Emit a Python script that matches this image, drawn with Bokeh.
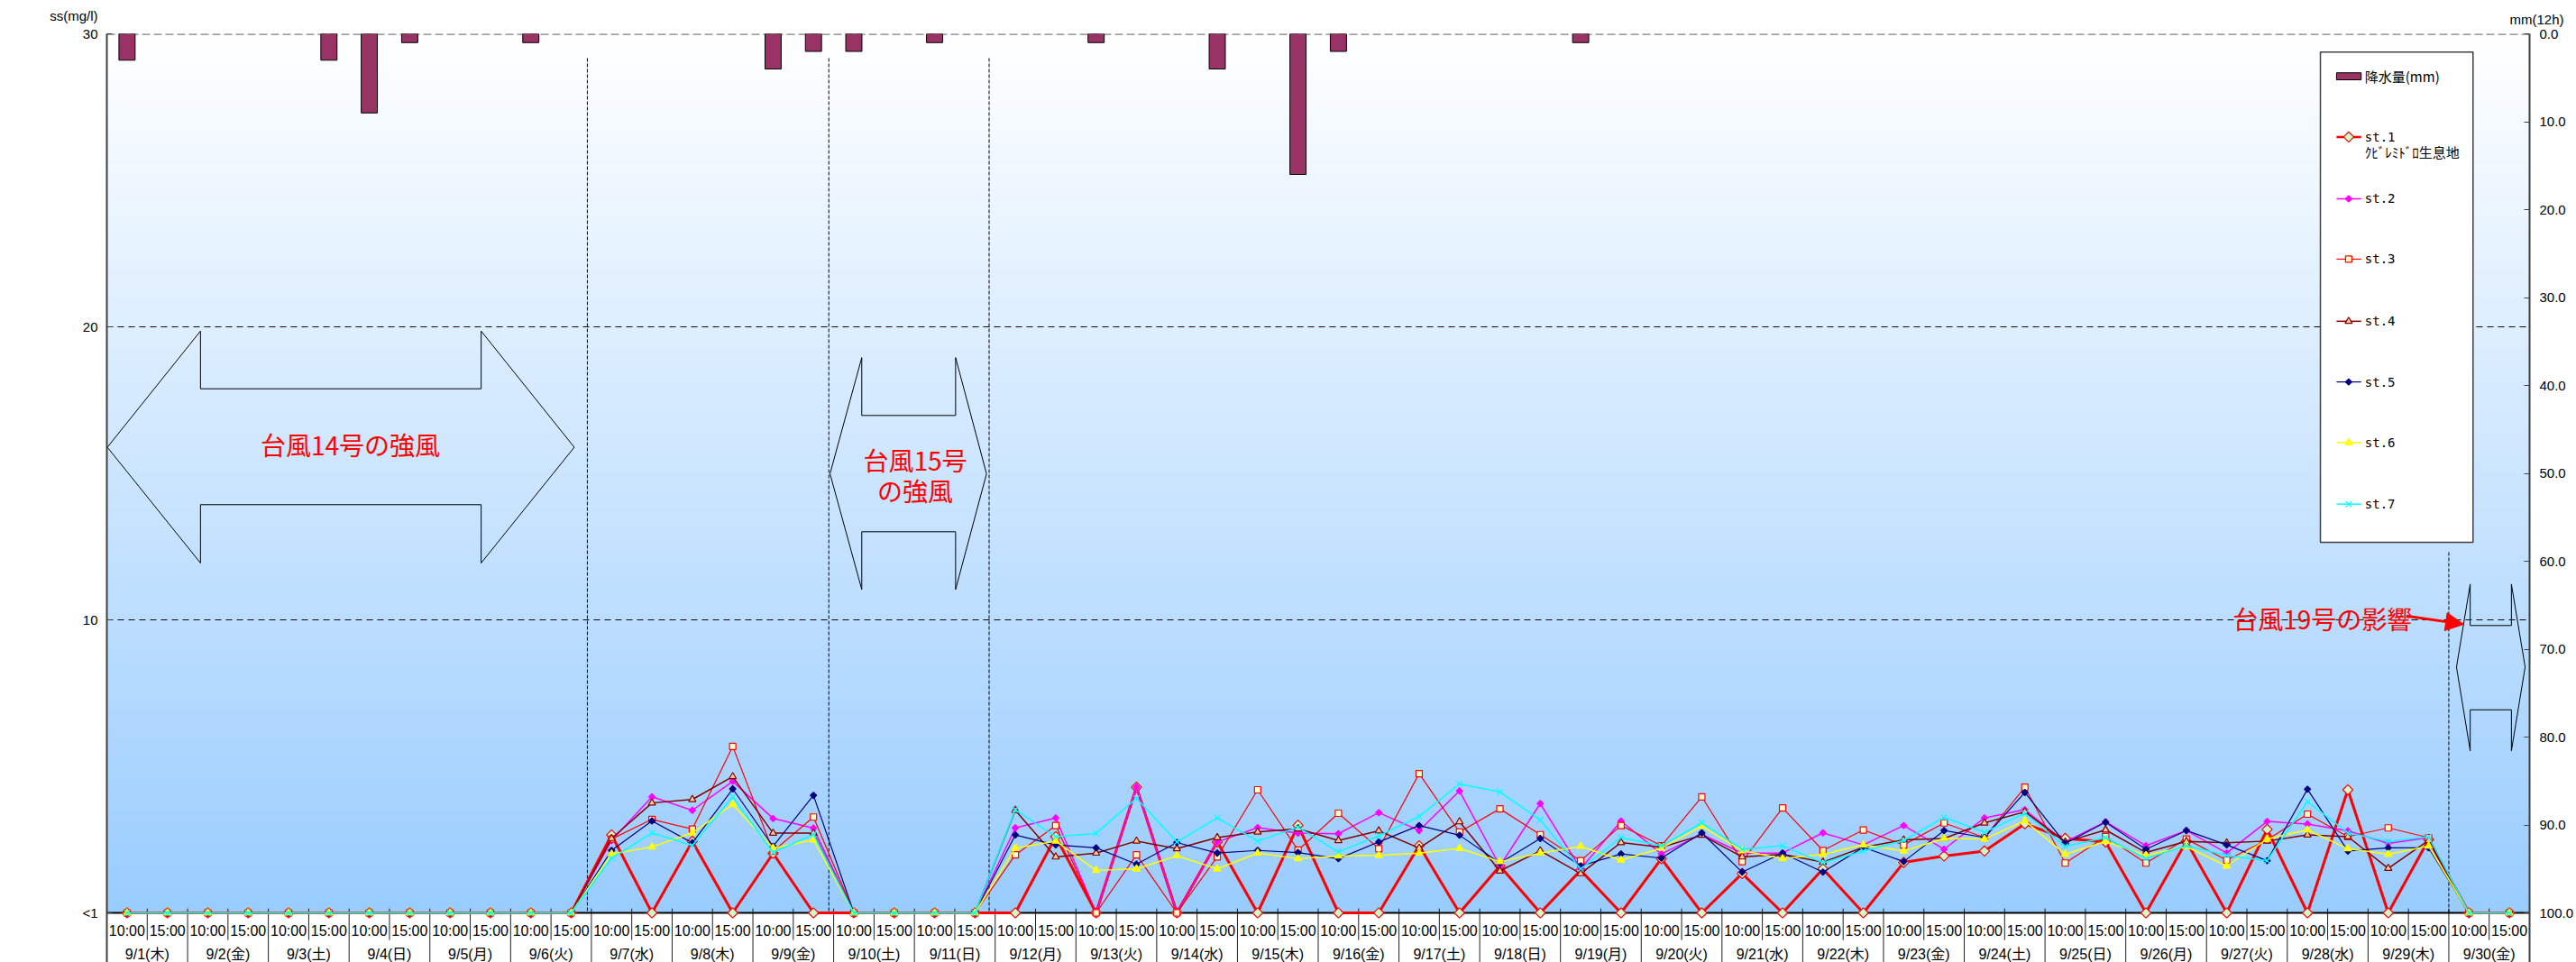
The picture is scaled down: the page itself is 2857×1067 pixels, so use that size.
import numpy as np
from bokeh.plotting import figure
from bokeh.models import (Range1d, LinearAxis, FixedTicker, NumeralTickFormatter,
                          Arrow, NormalHead)
from bokeh.core.properties import value
from bokeh.embed import file_html
from bokeh.resources import INLINE

# ---------------- data ----------------
dates = ["9/1(木)", "9/2(金)", "9/3(土)", "9/4(日)", "9/5(月)", "9/6(火)", "9/7(水)",
         "9/8(木)", "9/9(金)", "9/10(土)", "9/11(日)", "9/12(月)", "9/13(火)", "9/14(水)",
         "9/15(木)", "9/16(金)", "9/17(土)", "9/18(日)", "9/19(月)", "9/20(火)", "9/21(水)",
         "9/22(木)", "9/23(金)", "9/24(土)", "9/25(日)", "9/26(月)", "9/27(火)", "9/28(水)",
         "9/29(木)", "9/30(金)"]
times = ["10:00", "15:00"]

# rainfall mm(12h), one value per observation (60)
rain_mm = [3.0, 0, 0, 0, 0, 3.0, 9.0, 1.0, 0, 0, 1.0, 0,
           0, 0, 0, 0, 4.0, 2.0, 2.0, 0, 1.0, 0, 0, 0,
           1.0, 0, 0, 4.0, 0, 16.0, 2.0, 0, 0, 0, 0, 0,
           1.0, 0, 0, 0, 0, 0, 0, 0, 0, 0, 0, 0,
           0, 0, 0, 0, 0, 0, 0, 0, 0, 0, 0, 0]

# SS (mg/l); values "<1" are plotted at 0
st1 = [0, 0, 0, 0, 0, 0, 0, 0, 0, 0, 0, 0,
       2.66, 0, 2.44, 0, 2.03, 0, 0, 0, 0, 0,
       0, 2.6, 0, 4.29, 0, 2.42, 0, 2.99, 0, 0,
       2.29, 0, 1.6, 0, 1.45, 0, 1.85, 0, 1.34, 0,
       1.5, 0, 1.72, 1.94, 2.11, 3.04, 2.54, 2.42, 0, 2.44,
       0, 2.85, 0, 4.2, 0, 2.5, 0, 0]
st2 = [0, 0, 0, 0, 0, 0, 0, 0, 0, 0, 0, 0,
       2.47, 3.96, 3.5, 4.49, 3.22, 2.89, 0, 0, 0, 0,
       2.9, 3.24, 0, 4.29, 0, 2.42, 2.91, 2.72, 2.7, 3.42,
       2.81, 4.16, 1.6, 3.73, 1.5, 3.13, 2.01, 2.68, 2.04, 2.04,
       2.73, 2.32, 2.98, 2.17, 3.24, 3.52, 2.42, 3.11, 2.29, 2.81,
       2.04, 3.12, 3.03, 2.8, 2.37, 2.57, 0, 0]
st3 = [0, 0, 0, 0, 0, 0, 0, 0, 0, 0, 0, 0,
       2.52, 3.19, 2.86, 5.68, 2.1, 3.27, 0, 0, 0, 0,
       1.98, 2.98, 0, 1.98, 0, 1.91, 4.2, 2.14, 3.4, 2.19,
       4.75, 2.76, 3.55, 2.67, 1.78, 2.98, 2.29, 3.96, 1.75, 3.58,
       2.13, 2.83, 2.32, 3.07, 2.57, 4.29, 1.7, 2.6, 1.7, 2.52,
       1.8, 2.49, 3.37, 2.6, 2.9, 2.57, 0, 0]
st4 = [0, 0, 0, 0, 0, 0, 0, 0, 0, 0, 0, 0,
       2.54, 3.75, 3.87, 4.65, 2.72, 2.72, 0, 0, 0, 0,
       3.5, 1.91, 2.04, 2.45, 2.19, 2.57, 2.76, 2.87, 2.47, 2.8,
       2.21, 3.11, 1.43, 2.12, 1.34, 2.4, 2.24, 2.65, 1.91, 2.0,
       1.73, 2.24, 2.49, 2.54, 3.07, 3.45, 2.42, 2.83, 2.06, 2.44,
       2.39, 2.45, 2.66, 2.6, 1.52, 2.47, 0, 0]
st5 = [0, 0, 0, 0, 0, 0, 0, 0, 0, 0, 0, 0,
       2.13, 3.14, 2.39, 4.23, 2.27, 4.01, 0, 0, 0, 0,
       2.66, 2.32, 2.22, 1.66, 2.4, 2.04, 2.13, 2.06, 1.85, 2.42,
       2.98, 2.65, 1.7, 2.54, 1.6, 2.01, 1.87, 2.73, 1.39, 2.04,
       1.39, 2.24, 1.75, 2.81, 2.57, 4.11, 2.37, 3.09, 2.17, 2.81,
       2.32, 1.78, 4.22, 2.11, 2.22, 2.22, 0, 0]
st6 = [0, 0, 0, 0, 0, 0, 0, 0, 0, 0, 0, 0,
       2.01, 2.25, 2.73, 3.7, 2.21, 2.49, 0, 0, 0, 0,
       2.21, 2.45, 1.45, 1.5, 1.95, 1.5, 2.04, 1.85, 1.94, 1.96,
       2.04, 2.2, 1.75, 2.04, 2.27, 1.8, 2.21, 2.96, 2.12, 1.85,
       2.0, 2.32, 2.11, 2.54, 2.52, 3.14, 2.0, 2.44, 1.96, 2.26,
       1.6, 2.52, 2.83, 2.19, 2.0, 2.28, 0, 0]
st7 = [0, 0, 0, 0, 0, 0, 0, 0, 0, 0, 0, 0,
       1.86, 2.73, 2.3, 3.96, 2.06, 2.68, 0, 0, 0, 0,
       3.52, 2.6, 2.71, 3.91, 2.42, 3.24, 2.45, 2.92, 2.08, 2.63,
       3.29, 4.4, 4.13, 3.17, 1.5, 2.57, 2.29, 3.07, 2.17, 2.29,
       1.71, 2.11, 2.47, 3.26, 2.75, 3.4, 2.27, 2.57, 1.85, 2.29,
       1.96, 1.78, 3.8, 2.73, 2.44, 2.6, 0, 0]

series_names = ["st.1", "st.2", "st.3", "st.4", "st.5", "st.6", "st.7"]
left_ticks = [0, 10, 20, 30]
right_ticks = [0, 10, 20, 30, 40, 50, 60, 70, 80, 90, 100]

# ---------------- layout ----------------
N = len(dates) * len(times)
xs = list(range(N))
W, H = 2857, 1067
BL, BR, BT, BB = 118, 51, 37, 0
frame_h = H - BT - BB
ppu = 975.0 / 30.0                       # px per mg/l
y_bot = -(frame_h - 975.0) / ppu
rain_bot = 100.0 + (frame_h - 975.0) / 9.75

JP = "Noto Sans CJK JP"
LAT = "Liberation Sans, Noto Sans CJK JP"

p = figure(width=W, height=H, x_range=Range1d(-0.5, N - 0.5), y_range=Range1d(y_bot, 30),
           output_backend="svg", toolbar_location=None, x_axis_location=None,
           min_border_left=BL, min_border_right=BR, min_border_top=BT, min_border_bottom=BB,
           outline_line_color=None, background_fill_color="white", border_fill_color="white")
p.xgrid.visible = False
p.ygrid.visible = False
p.extra_y_ranges = {"rain": Range1d(rain_bot, 0)}

# right axis title shown as the plot title (top right)
p.title.text = "mm(12h)"
p.title.align = "right"
p.title.offset = -38
p.title.standoff = 14
p.title.vertical_align = "middle"
p.title.text_font = "Liberation Sans"
p.title.text_font_size = "15px"
p.title.text_font_style = "normal"
p.title.text_color = "black"

ya = p.yaxis[0]
ya.ticker = FixedTicker(ticks=left_ticks)
ya.major_label_overrides = {0: "<1", 30: "ss(mg/l)\n30\n"}
ya.major_tick_in = 6
ya.major_tick_out = 0
ya.minor_tick_line_color = None
ya.axis_line_width = 2
ya.axis_line_color = "#404040"
ya.major_tick_line_color = "#404040"
ya.major_label_text_font_size = "15px"
ya.major_label_text_font = "Liberation Sans"
ya.major_label_text_color = "black"
ya.major_label_standoff = 10

ra = LinearAxis(y_range_name="rain", ticker=FixedTicker(ticks=right_ticks),
                formatter=NumeralTickFormatter(format="0.0"))
ra.major_tick_in = 6
ra.major_tick_out = 0
ra.minor_tick_line_color = None
ra.axis_line_width = 2
ra.axis_line_color = "#404040"
ra.major_tick_line_color = "#404040"
ra.major_label_text_font_size = "15px"
ra.major_label_text_font = "Liberation Sans"
ra.major_label_text_color = "black"
ra.major_label_standoff = 11
p.add_layout(ra, "right")

# background gradient (white top -> light blue bottom)
nstr = 120
edges = np.linspace(0, 30, nstr + 1)
cols = []
for i in range(nstr):
    t = (edges[i] + edges[i + 1]) / 2 / 30.0
    r = int(round(153 + (255 - 153) * t))
    g = int(round(204 + (255 - 204) * t))
    cols.append("#%02x%02x%02x" % (r, g, 255))
p.quad(left=-0.5, right=N - 0.5, bottom=edges[:-1], top=edges[1:], fill_color=cols,
       line_color=cols, line_width=1)

# dashed reference lines
p.segment(x0=[-0.5, -0.5], y0=[10, 20], x1=[N - 0.5, N - 0.5], y1=[10, 20],
          line_color="black", line_width=1, line_dash="7 5")
p.segment(x0=[-0.5], y0=[30], x1=[N - 0.5], y1=[30], line_color="#808080",
          line_width=2.5, line_dash="9 4")

# typhoon period dotted lines
p.segment(x0=[11.4, 17.38, 21.35], y0=[29.17] * 3, x1=[11.4, 17.38, 21.35], y1=[0] * 3,
          line_color="black", line_width=1, line_dash="4 2")
p.segment(x0=[57.5], y0=[12.31], x1=[57.5], y1=[0], line_color="black", line_width=1,
          line_dash="4 2")

# bottom label rows: separators
day_b = [2 * d - 0.5 for d in range(len(dates) + 1)]
time_b = [2 * d + 0.5 for d in range(len(dates))]
p.segment(x0=time_b, y0=[0.15] * len(time_b), x1=time_b, y1=[-0.93] * len(time_b),
          line_color="#202020", line_width=1)
p.segment(x0=day_b, y0=[0.15] * len(day_b), x1=day_b, y1=[y_bot] * len(day_b),
          line_color="#202020", line_width=1)
p.text(x=xs, y=[-0.62] * N, text=[times[i % 2] for i in xs], text_align="center",
       text_baseline="middle", text_font=value("Liberation Sans"), text_font_size="16px",
       text_color="black")
p.text(x=[2 * d + 0.5 for d in range(len(dates))], y=[-1.41] * len(dates), text=dates,
       text_align="center", text_baseline="middle", text_font=value(LAT),
       text_font_size="16px", text_color="black")

# rainfall bars (hanging from the top, right axis inverted)
rx = [i for i in xs if rain_mm[i] > 0]
rv = [rain_mm[i] for i in rx]
p.vbar(x=rx, top=[0] * len(rx), bottom=rv, width=0.4, y_range_name="rain",
       fill_color="#993366", line_color="black", line_width=1)

# x axis line at "<1"
p.segment(x0=[-0.5], y0=[0], x1=[N - 0.5], y1=[0], line_color="black", line_width=2)

# typhoon block arrows
shape1_x = [-0.487, 1.819, 1.819, 8.77, 8.77, 11.076, 8.77, 8.77, 1.819, 1.819]
shape1_y = [15.89, 19.855, 17.886, 17.886, 19.855, 15.89, 11.94, 13.93, 13.93, 11.94]
shape2_x = [17.41, 18.196, 18.196, 20.52, 20.52, 21.286, 20.52, 20.52, 18.196, 18.196]
shape2_y = [14.985, 18.95, 16.975, 16.975, 18.95, 14.985, 11.037, 13.006, 13.006, 11.037]
shape3_x = [57.69, 58.03, 58.03, 59.05, 59.05, 59.39, 59.05, 59.05, 58.03, 58.03]
shape3_y = [8.39, 11.22, 9.806, 9.806, 11.22, 8.39, 5.53, 6.93, 6.93, 5.53]
for sx, sy in [(shape1_x, shape1_y), (shape2_x, shape2_y), (shape3_x, shape3_y)]:
    p.patch(sx + [sx[0]], sy + [sy[0]], fill_color=None, line_color="black", line_width=1)

p.text(x=[5.53, 19.52, 19.52, 54.37], y=[16.0, 15.45, 14.43, 10.06],
       text=["台風14号の強風", "台風15号", "の強風", "台風19号の影響"],
       text_align="center", text_baseline="middle", text_font=value(JP),
       text_font_size="28px", text_color="#ff0000")
p.add_layout(Arrow(end=NormalHead(size=20, fill_color="#ff0000", line_color="#ff0000"),
                   x_start=56.45, y_start=10.13, x_end=57.87, y_end=9.85,
                   line_color="#ff0000", line_width=3))

# legend box (drawn as glyphs)
p.quad(left=[54.32], right=[58.1], bottom=[12.65], top=[29.375], fill_color="white",
       line_color="#404040", line_width=1.5)

# series
styles = [
    dict(color="#ff0000", lw=3.0, marker="square", size=8, angle=np.pi / 4,
         fill="#ccffcc", mline="#ff0000"),
    dict(color="#ff00ff", lw=1.5, marker="square", size=5, angle=np.pi / 4,
         fill="#ff00ff", mline="#ff00ff"),
    dict(color="#ff0000", lw=1.2, marker="square", size=7, angle=0,
         fill="#ffffcc", mline="#ff0000"),
    dict(color="#800000", lw=1.5, marker="triangle", size=8, angle=0,
         fill="#ffcc99", mline="#800000"),
    dict(color="#000080", lw=1.2, marker="square", size=5, angle=np.pi / 4,
         fill="#000080", mline="#000080"),
    dict(color="#ffff00", lw=1.5, marker="triangle", size=8, angle=0,
         fill="#ffff00", mline="#ffff00"),
    dict(color="#00ffff", lw=1.5, marker="x", size=9, angle=0,
         fill="#00ffff", mline="#00ffff"),
]
for ys, s in zip([st1, st2, st3, st4, st5, st6, st7], styles):
    p.line(xs, ys, line_color=s["color"], line_width=s["lw"])
    p.scatter(xs, ys, marker=s["marker"], size=s["size"], angle=s["angle"],
              fill_color=s["fill"], line_color=s["mline"], line_width=1.2)

# legend entries
leg_y = [26.48, 24.37, 22.31, 20.19, 18.12, 16.05, 13.95]
p.quad(left=[54.72], right=[55.33], bottom=[28.43], top=[28.67], fill_color="#993366",
       line_color="black", line_width=1)
p.text(x=[55.42], y=[28.55], text=["降水量(mm)"], text_baseline="middle",
       text_font=value(JP), text_font_size="15px", text_color="black")
for ly, s, nm in zip(leg_y, styles, series_names):
    p.line([54.72, 55.33], [ly, ly], line_color=s["color"], line_width=min(s["lw"], 2.5))
    p.scatter([55.02], [ly], marker=s["marker"], size=s["size"], angle=s["angle"],
              fill_color=s["fill"], line_color=s["mline"], line_width=1.2)
    p.text(x=[55.42], y=[ly], text=[nm], text_baseline="middle",
           text_font=value("DejaVu Sans Mono"), text_font_size="14px", text_color="black")
p.text(x=[55.42], y=[25.97], text=["ｸﾋﾞﾚﾐﾄﾞﾛ生息地"], text_baseline="middle",
       text_font=value(JP), text_font_size="15px", text_color="black")

open("out.html", "w").write(file_html(p, INLINE))
